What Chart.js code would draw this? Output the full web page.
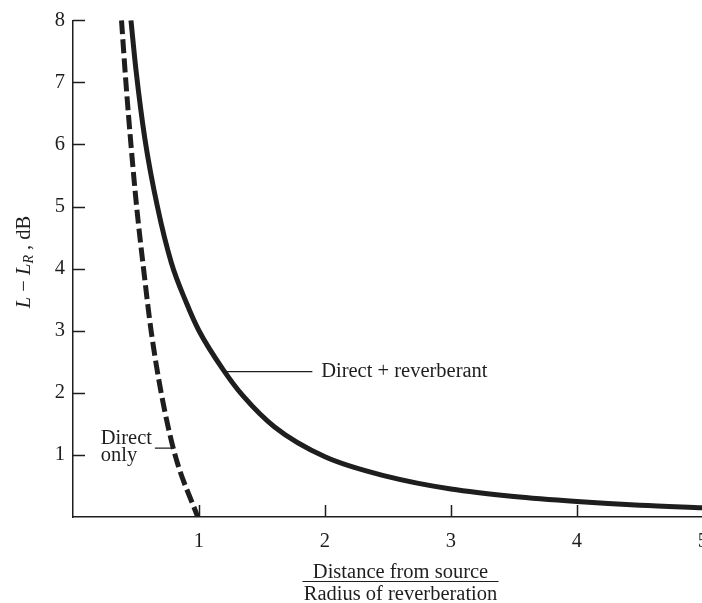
<!DOCTYPE html>
<html>
<head>
<meta charset="utf-8">
<script src="https://cdn.jsdelivr.net/npm/chart.js@4.4.0/dist/chart.umd.min.js"></script>
<style>
  html, body { margin: 0; padding: 0; background: #fff; overflow: hidden; }
  #wrap { width: 720px; height: 603px; position: relative; }
</style>
</head>
<body>
<div id="wrap"><canvas id="myChart"></canvas></div>
<script>
// values
var directX = [0.385, 0.42, 0.46, 0.505, 0.56, 0.62, 0.7, 0.81, 0.99];
var directY = [8, 7, 6, 5, 4, 3, 2, 1, 0];

var bothX = [0.46, 0.5, 0.57, 0.67, 0.78, 0.9, 1.0, 1.2, 1.35, 1.6, 2.0, 2.5, 3.0, 3.5, 4.0, 4.5, 5.0];
var bothY = [8.0, 7.2, 6.1, 5.0, 4.1, 3.45, 3.0, 2.35, 1.95, 1.45, 0.97, 0.65, 0.45, 0.33, 0.25, 0.19, 0.15];

var xTicks = [1, 2, 3, 4, 5];
var yTicks = [1, 2, 3, 4, 5, 6, 7, 8];

var ink = "#1e1e1e";
var serif = "'Liberation Serif', 'DejaVu Serif', serif";
var fs = 20.5;

function pts(xs, ys) {
  return xs.map(function (x, i) { return { x: x, y: ys[i] }; });
}

// inward tick marks, labels and axis titles
var extras = {
  id: "extras",
  afterDraw: function (chart) {
    var ctx = chart.ctx;
    var xs = chart.scales.x, ys = chart.scales.y;
    var area = chart.chartArea;
    ctx.save();
    ctx.strokeStyle = ink;
    ctx.lineWidth = 1.5;
    ctx.beginPath();
    yTicks.forEach(function (v) {
      var p = Math.round(ys.getPixelForValue(v)) + 0.5;
      ctx.moveTo(area.left, p);
      ctx.lineTo(area.left + 12, p);
    });
    xTicks.forEach(function (v) {
      var p = Math.round(xs.getPixelForValue(v)) + 0.5;
      ctx.moveTo(p, area.bottom);
      ctx.lineTo(p, area.bottom - 12);
    });
    ctx.stroke();

    // annotation: Direct + reverberant
    ctx.lineWidth = 1.2;
    ctx.beginPath();
    var ly = ys.getPixelForValue(2.34);
    ctx.moveTo(xs.getPixelForValue(1.21), ly);
    ctx.lineTo(xs.getPixelForValue(1.9), ly);
    // annotation: Direct only
    var dy = ys.getPixelForValue(1.11);
    ctx.moveTo(xs.getPixelForValue(0.65), dy);
    ctx.lineTo(xs.getPixelForValue(0.8), dy);
    ctx.stroke();

    ctx.fillStyle = ink;
    ctx.font = fs + "px " + serif;
    ctx.textAlign = "left";
    ctx.textBaseline = "middle";
    ctx.fillText("Direct + reverberant", xs.getPixelForValue(1.97), ly);
    ctx.textBaseline = "alphabetic";
    ctx.fillText("Direct", xs.getPixelForValue(0.22), ys.getPixelForValue(1.18));
    ctx.fillText("only", xs.getPixelForValue(0.22), ys.getPixelForValue(0.9));

    // x title as a fraction
    var cx = xs.getPixelForValue(2.6);
    ctx.textAlign = "center";
    ctx.fillText("Distance from source", cx, 578);
    ctx.fillText("Radius of reverberation", cx, 600);
    ctx.beginPath();
    ctx.lineWidth = 1.2;
    ctx.moveTo(cx - 98, 581.5);
    ctx.lineTo(cx + 98, 581.5);
    ctx.stroke();

    // y title: L - L_R , dB
    ctx.translate(25, 262);
    ctx.rotate(-Math.PI / 2);
    var parts = [
      { t: "L", f: "italic " + fs + "px " + serif, dy: 0 },
      { t: " \u2212 ", f: fs + "px " + serif, dy: 0 },
      { t: "L", f: "italic " + fs + "px " + serif, dy: 0 },
      { t: "R", f: "italic 14px " + serif, dy: 4 },
      { t: " , dB", f: fs + "px " + serif, dy: 0 }
    ];
    var total = 0;
    parts.forEach(function (p) { ctx.font = p.f; p.w = ctx.measureText(p.t).width; total += p.w; });
    var px = -total / 2;
    ctx.textAlign = "left";
    ctx.textBaseline = "middle";
    parts.forEach(function (p) {
      ctx.font = p.f;
      ctx.fillText(p.t, px, p.dy);
      px += p.w;
    });
    ctx.restore();
  }
};

const ctx = document.getElementById("myChart").getContext("2d");
const myChart = new Chart(ctx, {
  type: "line",
  data: {
    datasets: [
      {
        label: "Direct only",
        data: pts(directX, directY),
        borderColor: ink,
        borderWidth: 5,
        borderDash: [14, 5],
        pointRadius: 0,
        cubicInterpolationMode: "monotone",
        fill: false
      },
      {
        label: "Direct + reverberant",
        data: pts(bothX, bothY),
        borderColor: ink,
        borderWidth: 5,
        pointRadius: 0,
        cubicInterpolationMode: "monotone",
        fill: false
      }
    ]
  },
  options: {
    responsive: true,
    maintainAspectRatio: false,
    animation: false,
    layout: { padding: { top: 14, left: 0, right: 0, bottom: 0 } },
    plugins: { legend: { display: false }, tooltip: { enabled: false } },
    scales: {
      x: {
        type: "linear",
        min: 0,
        max: 5,
        grid: { display: false, drawTicks: false },
        border: { display: true, color: ink, width: 1.5 },
        ticks: {
          stepSize: 1,
          color: ink,
          padding: 12,
          font: { family: serif, size: fs },
          callback: function (v) { return v === 0 ? "" : v; }
        },
        afterFit: function (s) { s.height = 86; }
      },
      y: {
        type: "linear",
        min: 0,
        max: 8,
        grid: { display: false, drawTicks: false },
        border: { display: true, color: ink, width: 1.5 },
        ticks: {
          stepSize: 1,
          color: ink,
          padding: 8,
          font: { family: serif, size: fs },
          callback: function (v) { return v === 0 ? "" : v; }
        },
        afterFit: function (s) { s.width = 73; }
      }
    }
  },
  plugins: [extras]
});
</script>
</body>
</html>
